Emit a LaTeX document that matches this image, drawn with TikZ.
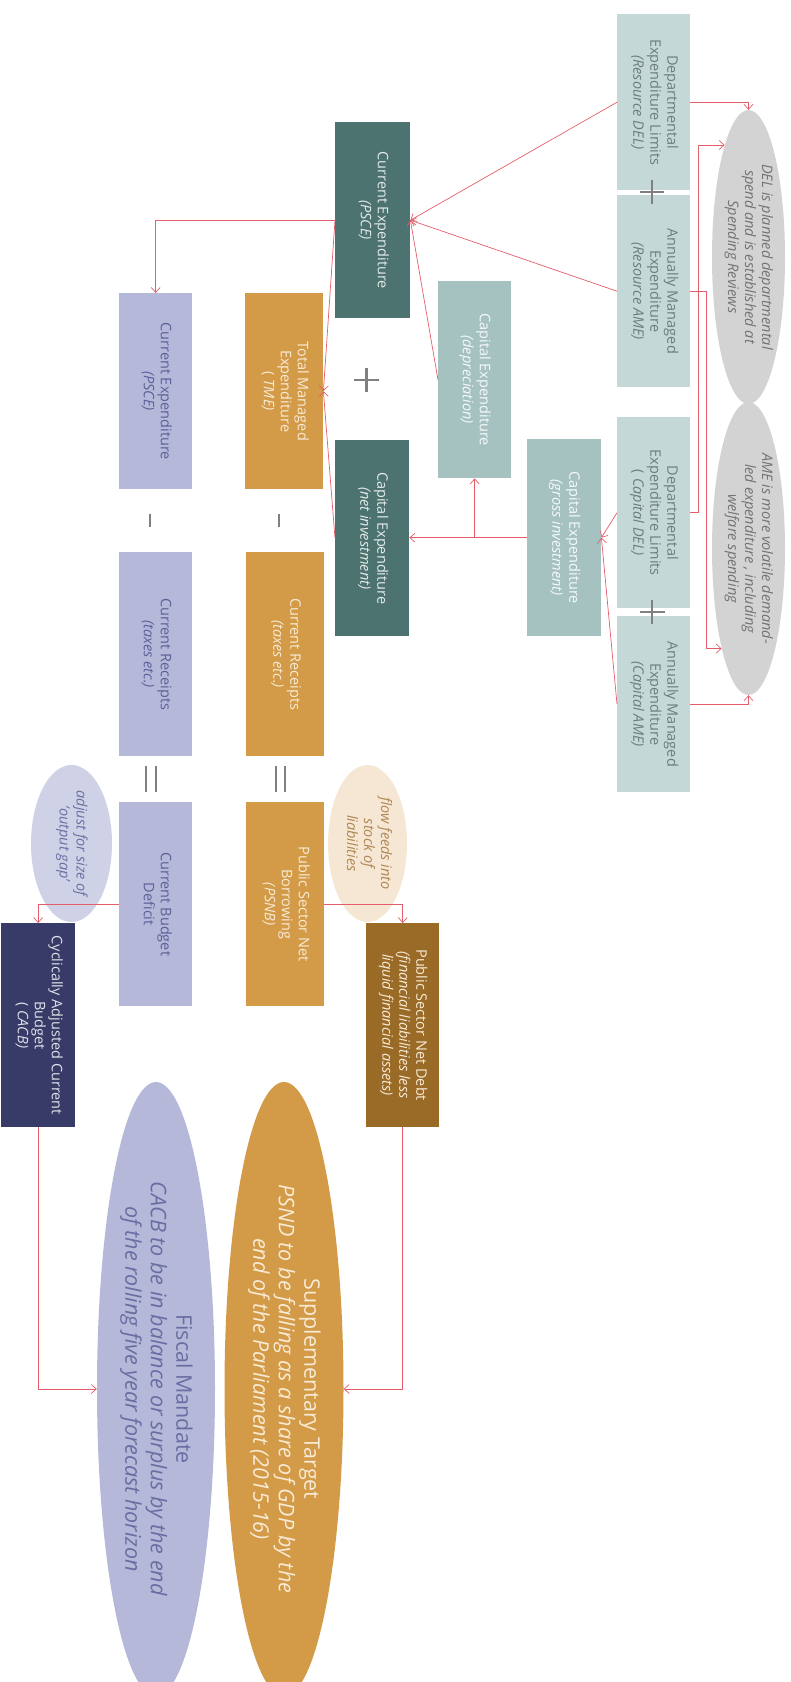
\documentclass[tikz,border=0pt]{standalone}
\usepackage{fontspec}
\setmainfont{Open Sans}
\usetikzlibrary{arrows.meta,shapes.geometric}
\definecolor{lteal}{HTML}{C3D8D7}
\definecolor{mteal}{HTML}{A5C2C1}
\definecolor{dteal}{HTML}{4C7370}
\definecolor{orng}{HTML}{D39B48}
\definecolor{lav}{HTML}{B5B8D8}
\definecolor{navy}{HTML}{383B68}
\definecolor{brwn}{HTML}{9A6A27}
\definecolor{gell}{HTML}{D3D3D3}
\definecolor{gapell}{HTML}{CFD1E6}
\definecolor{flowell}{HTML}{F6E6D4}
\definecolor{conn}{HTML}{E35D6A}
\definecolor{signc}{HTML}{808080}
\definecolor{tgray}{HTML}{6E7C7C}
\definecolor{tlav}{HTML}{5C6099}
\definecolor{tcream}{HTML}{F8EBD6}
\newcommand{\rtext}[1]{\rotatebox{-90}{\begin{tabular}{@{}c@{}}#1\end{tabular}}}
\begin{document}
\begin{tikzpicture}[x=1pt,y=-1pt,
  box/.style={rectangle, inner sep=0pt, anchor=north west, font=\fontsize{14.5}{17}\selectfont},
  ell/.style={ellipse, inner sep=0pt, font=\fontsize{14.5}{17}\selectfont\itshape},
  bigell/.style={ellipse, inner sep=0pt, font=\fontsize{21.5}{25.5}\selectfont},
  conn/.style={draw=conn, line width=0.7pt},
  arr/.style={conn, -{Straight Barb[length=5pt,width=9pt]}},
  sign/.style={draw=signc, line width=2.6pt}]
\clip (0,0) rectangle (791,1682);
% right column
\node[box, fill=lteal, text=tgray, minimum width=73pt, minimum height=176pt] (rdel) at (617,14)
  {\rtext{Departmental\\Expenditure Limits\\\textit{(Resource DEL)}}};
\node[box, fill=lteal, text=tgray, minimum width=73pt, minimum height=192pt] (rame) at (617,195)
  {\rtext{Annually Managed\\Expenditure\\\textit{(Resource AME)}}};
\node[box, fill=lteal, text=tgray, minimum width=73pt, minimum height=191pt] (cdel) at (617,417)
  {\rtext{Departmental\\Expenditure Limits\\( \textit{Capital DEL)}}};
\node[box, fill=lteal, text=tgray, minimum width=73pt, minimum height=176pt] (came) at (617,616)
  {\rtext{Annually Managed\\Expenditure\\\textit{(Capital AME)}}};
\node[ell, fill=gell, text=black!55, minimum width=73pt, minimum height=294pt] (delE) at (748.5,257)
  {\rtext{DEL is planned departmental\\spend and is established at\\Spending Reviews}};
\node[ell, fill=gell, text=black!55, minimum width=73pt, minimum height=293pt] (ameE) at (748.5,548.5)
  {\rtext{AME is more volatile demand-\\led expenditure , including\\welfare spending}};
% middle
\node[box, fill=dteal, text=white!85!dteal, minimum width=75pt, minimum height=196pt] (psce) at (335,122)
  {\rtext{Current Expenditure\\\textit{(PSCE)}}};
\node[box, fill=mteal, text=white!90!mteal, minimum width=73pt, minimum height=197pt] (dep) at (438,281)
  {\rtext{Capital Expenditure\\\textit{(depreciation)}}};
\node[box, fill=mteal, text=white!90!mteal, minimum width=74pt, minimum height=197pt] (gross) at (527,439)
  {\rtext{Capital Expenditure\\\textit{(gross investment)}}};
\node[box, fill=dteal, text=white!85!dteal, minimum width=74pt, minimum height=196pt] (net) at (335,440)
  {\rtext{Capital Expenditure\\\textit{(net investment)}}};
% orange column
\node[box, fill=orng, text=tcream, minimum width=78pt, minimum height=196pt] (tme) at (245,293)
  {\rtext{Total Managed\\Expenditure\\( \textit{TME)}}};
\node[box, fill=orng, text=tcream, minimum width=78pt, minimum height=204pt] (orec) at (246,552)
  {\rtext{Current Receipts\\\textit{(taxes etc.)}}};
\node[box, fill=orng, text=tcream, minimum width=78pt, minimum height=204pt] (psnb) at (246,802)
  {\rtext{Public Sector Net\\Borrowing\\\textit{(PSNB)}}};
\node[box, fill=brwn, text=tcream, minimum width=73pt, minimum height=204pt] (psnd) at (366,923)
  {\rtext{Public Sector Net Debt\\\textit{(financial liabilities less}\\\textit{liquid financial assets)}}};
% lavender column
\node[box, fill=lav, text=tlav, minimum width=73pt, minimum height=196pt] (lpsce) at (119,293)
  {\rtext{Current Expenditure\\\textit{(PSCE)}}};
\node[box, fill=lav, text=tlav, minimum width=73pt, minimum height=204pt] (lrec) at (119,552)
  {\rtext{Current Receipts\\\textit{(taxes etc.)}}};
\node[box, fill=lav, text=tlav, minimum width=73pt, minimum height=204pt] (cbd) at (119,802)
  {\rtext{Current Budget\\Deficit}};
\node[box, fill=navy, text=white!85!navy, minimum width=74pt, minimum height=204pt] (cacb) at (1,923)
  {\rtext{Cyclically Adjusted Current\\Budget\\( \textit{CACB)}}};
% small ellipses
\node[ell, fill=gapell, text=tlav!90!white, minimum width=81pt, minimum height=157pt] (gapE) at (71.5,843.5)
  {\rtext{adjust for size of\\`output gap'}};
\node[ell, fill=flowell, text=brwn!80!white, minimum width=79pt, minimum height=157pt] (flowE) at (367.5,843.5)
  {\rtext{flow feeds into\\stock of\\liabilities}};
% big ellipses
\node[bigell, fill=lav, text=tlav!85!lav, minimum width=118pt, minimum height=614pt] (fiscal) at (156,1389)
  {\rtext{Fiscal Mandate\\\textit{CACB to be in balance or surplus by the end}\\\textit{of the rolling five year forecast horizon}}};
\node[bigell, fill=orng, text=tcream, minimum width=119pt, minimum height=614pt] (supp) at (284,1389)
  {\rtext{Supplementary Target\\\textit{PSND to be falling as a share of GDP by the}\\\textit{end of the Parliament (2015-16)}}};
% signs
\draw[sign] (652,180) -- (652,204) (640,192) -- (664,192);
\draw[sign] (652,600) -- (652,624) (640,612) -- (665,612);
\draw[sign] (366.5,368) -- (366.5,392) (354,380) -- (379,380);
\draw[sign] (150,514) -- (150,527);
\draw[sign] (279,514) -- (279,527);
\draw[sign, line width=2pt] (146,766) -- (146,792) (156,766) -- (156,792);
\draw[sign, line width=2pt] (276,766) -- (276,792) (285,766) -- (285,792);
% connectors
\draw[arr] (rdel.east) -| (delE.north);
\draw[arr] (rame.east) -- ++(16,0) |- (ameE.255);
\draw[arr] (cdel.east) -- ++(8,0) |- (delE.102);
\draw[arr] (came.east) -| (ameE.south);
\draw[arr] (rdel.west) -- (psce.east);
\draw[arr] (rame.west) -- (psce.east);
\draw[arr] (dep.west) -- (psce.east);
\draw[arr] (cdel.west) -- (gross.east);
\draw[arr] (came.west) -- (gross.east);
\draw[arr] (gross.west) -- (gross.west -| net.east);
\draw[arr] (gross.west -| dep.south) -- (dep.south);
\draw[arr] (psce.west) -- (tme.east);
\draw[arr] (net.west) -- (tme.east);
\draw[arr] (psce.west) -| (lpsce.north);
\draw[arr] (cbd.west) -| (cacb.north);
\draw[arr] (psnb.east) -| (psnd.north);
\draw[arr] (cacb.south) |- (fiscal.west);
\draw[arr] (psnd.south) |- (supp.east);
\end{tikzpicture}
\end{document}
